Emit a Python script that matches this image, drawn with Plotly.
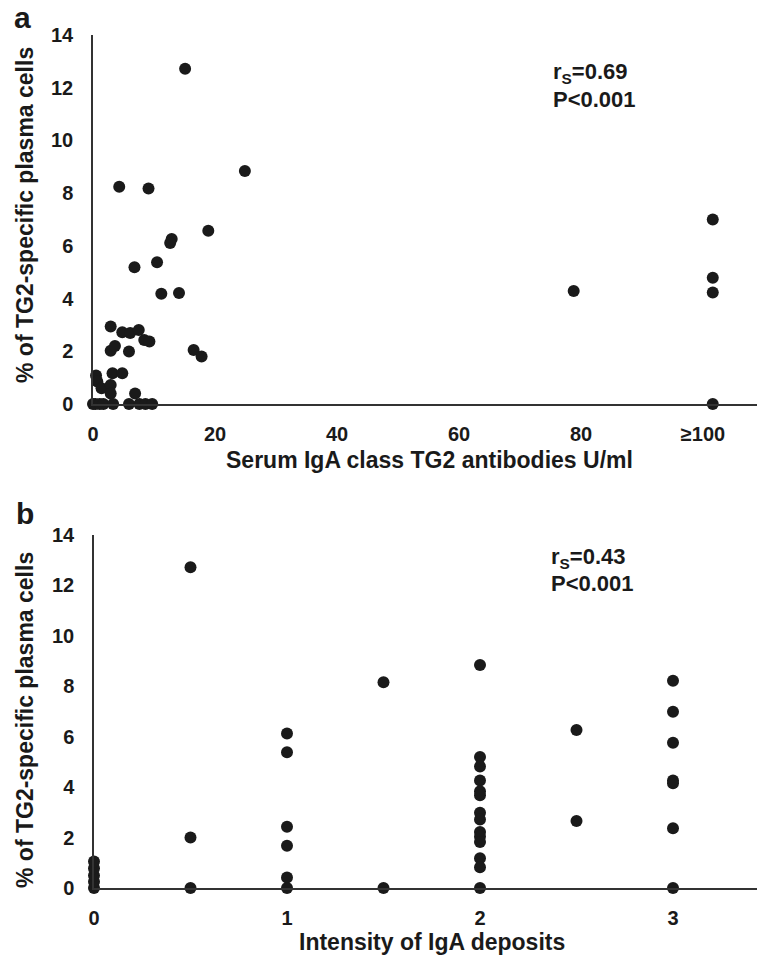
import plotly.graph_objects as go

W, H = 758, 958

# Panel a: serum IgA class TG2 antibodies (U/ml) vs % TG2-specific plasma cells
a_x = [15.1, 4.3, 9.1, 24.9, 18.9, 12.9, 12.65, 6.8, 10.5, 11.2, 14.1, 78.8,
       101.6, 101.6, 101.6, 101.6,
       2.9, 4.8, 6.1, 7.5, 8.4, 9.25, 2.9, 3.6, 5.9, 16.5, 17.8, 3.2, 4.8,
       0.5, 0.7, 1.4, 2.9, 2.9, 6.9,
       0.0, 0.4, 1.1, 1.7, 3.3, 5.9, 7.6, 8.6, 9.7]
a_y = [12.72, 8.24, 8.18, 8.84, 6.57, 6.26, 6.11, 5.19, 5.38, 4.18, 4.21, 4.29,
       7.0, 4.79, 4.23, 0.0,
       2.94, 2.72, 2.69, 2.81, 2.43, 2.37, 2.02, 2.2, 1.99, 2.05, 1.8, 1.17, 1.17,
       1.08, 0.85, 0.6, 0.72, 0.4, 0.4,
       0, 0, 0, 0, 0, 0, 0, 0, 0]
a_tickvals = [0, 20, 40, 60, 80, 100]
a_ticktext = ["0", "20", "40", "60", "80", "≥100"]

# Panel b: intensity of IgA deposits vs % TG2-specific plasma cells
b_x = [0, 0, 0, 0, 0,
       0.5, 0.5, 0.5,
       1, 1, 1, 1, 1, 1,
       1.5, 1.5,
       2, 2, 2, 2, 2, 2, 2, 2, 2, 2, 2, 2, 2, 2,
       2.5, 2.5,
       3, 3, 3, 3, 3, 3, 3]
b_y = [0, 0.25, 0.5, 0.78, 1.05,
       12.72, 2.0, 0,
       6.13, 5.38, 2.43, 1.68, 0.42, 0,
       8.16, 0,
       8.84, 5.2, 4.82, 4.26, 3.84, 3.68, 2.98, 2.72, 2.22, 2.04, 1.82, 1.18, 0.82, 0,
       6.27, 2.66,
       8.22, 6.99, 5.76, 4.26, 4.15, 2.37, 0]
b_tickvals = [0, 1, 2, 3]

y_tickvals = [0, 2, 4, 6, 8, 10, 12, 14]

FONT = "Liberation Sans, Arial, Helvetica, sans-serif"
INK = "#1a1a1a"
AX = "#333333"


def px(x):
    return x / W


def py(y):
    return 1 - y / H


fig = go.Figure()
marker = dict(color=INK, size=12, line=dict(width=0))
fig.add_trace(go.Scatter(x=a_x, y=a_y, mode="markers", marker=marker,
                         xaxis="x", yaxis="y", cliponaxis=False, showlegend=False))
fig.add_trace(go.Scatter(x=b_x, y=b_y, mode="markers", marker=marker,
                         xaxis="x2", yaxis="y2", cliponaxis=False, showlegend=False))

tickfont = dict(family=FONT, size=20, color=INK, weight="bold")
common = dict(showgrid=False, zeroline=False, showline=True, linecolor=AX,
              linewidth=1.5, ticks="", tickfont=tickfont, automargin=False)

fig.update_layout(
    width=W, height=H,
    margin=dict(l=0, r=0, t=0, b=0),
    paper_bgcolor="white", plot_bgcolor="white",
    xaxis=dict(domain=[px(93), px(757)], range=[0, 664 / 6.1], anchor="y",
               tickvals=a_tickvals, ticktext=a_ticktext, ticklabelstandoff=11, **common),
    yaxis=dict(domain=[py(404), py(35)], range=[0, 14], anchor="x",
               tickvals=y_tickvals, ticklabelstandoff=14, **common),
    xaxis2=dict(domain=[px(94), px(757)], range=[0, 663 / 193], anchor="y2",
                tickvals=b_tickvals, ticklabelstandoff=11, **common),
    yaxis2=dict(domain=[py(888), py(535)], range=[0, 14], anchor="x2",
                tickvals=y_tickvals, ticklabelstandoff=14, **common),
)

tfont = dict(family=FONT, size=23, color=INK, weight="bold")
sfont = dict(family=FONT, size=22, color=INK, weight="bold")


def ann(text, x, y, xanchor="center", yanchor="middle", font=tfont, angle=0):
    fig.add_annotation(text=text, x=px(x), y=py(y), xref="paper", yref="paper",
                       xanchor=xanchor, yanchor=yanchor, showarrow=False,
                       font=font, textangle=angle, align="left")


# panel letters
lfont = dict(family=FONT, size=30, color=INK, weight="bold")
ann("a", 22, 18, font=lfont)
ann("b", 25, 513, font=lfont)

# axis titles
ann("Serum IgA class TG2 antibodies U/ml", 429, 460)
ann("Intensity of IgA deposits", 432, 942)
ann("% of TG2-specific plasma cells", 25, 215, angle=-90)
ann("% of TG2-specific plasma cells", 25, 720, angle=-90)

# correlation stats
ann("r<sub>S</sub>=0.69", 551, 73, xanchor="left", font=sfont)
ann("P<0.001", 551, 99, xanchor="left", font=sfont)
ann("r<sub>S</sub>=0.43", 549, 558, xanchor="left", font=sfont)
ann("P<0.001", 549, 583, xanchor="left", font=sfont)

fig.write_html(
    "out.html",
    config={"displayModeBar": False},
    post_script="document.body.style.margin='0';document.body.style.overflow='hidden';",
)
